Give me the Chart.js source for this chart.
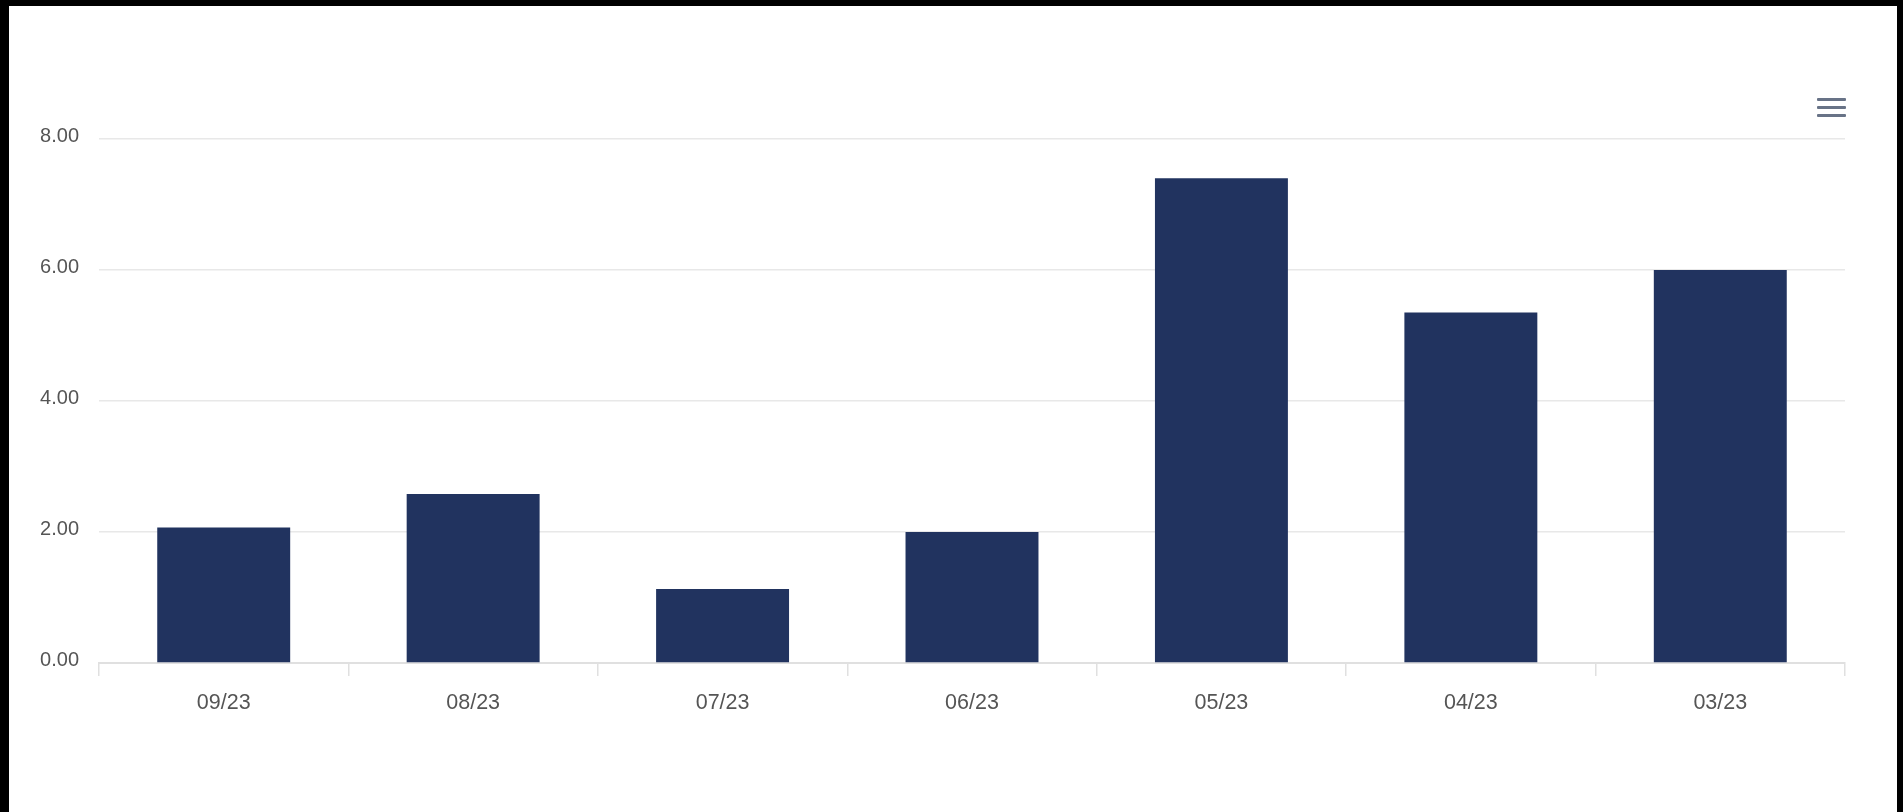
<!DOCTYPE html>
<html>
<head>
<meta charset="utf-8">
<script src="https://cdn.jsdelivr.net/npm/chart.js@4/dist/chart.umd.min.js"></script>
<style>
  html, body { margin: 0; padding: 0; background: #000; width: 1903px; height: 812px; overflow: hidden; }
  #frame { position: absolute; left: 9px; top: 6px; width: 1888px; height: 806px; background: #fff; }
  #c { position: absolute; left: 0; top: 0; }
  .menu { position: absolute; left: 1808px; width: 29px; height: 3px; background: #687387; border-radius: 1px; }
</style>
</head>
<body>
<div id="frame">
  <canvas id="c" width="1888" height="806"></canvas>
  <div class="menu" style="top:92px"></div>
  <div class="menu" style="top:100px"></div>
  <div class="menu" style="top:108px"></div>
</div>
<script>
const categories = ["09/23", "08/23", "07/23", "06/23", "05/23", "04/23", "03/23"];
const values = [2.07, 2.58, 1.13, 2.00, 7.40, 5.35, 6.00];
const yTicks = [0, 2, 4, 6, 8];

const FAMILY = "'Liberation Sans', Arial, sans-serif";

new Chart(document.getElementById('c'), {
  type: 'bar',
  data: {
    labels: categories,
    datasets: [{
      data: values,
      backgroundColor: '#21335f',
      borderWidth: 0,
      barPercentage: 0.533,
      categoryPercentage: 1.0
    }]
  },
  options: {
    responsive: false,
    animation: false,
    events: [],
    layout: { padding: { left: 0, right: 52, top: 133, bottom: 89 } },
    plugins: { legend: { display: false }, tooltip: { enabled: false } },
    scales: {
      x: {
        grid: { display: true, drawOnChartArea: false, drawTicks: true, tickLength: 13, color: '#e0e0e0', lineWidth: 1.5 },
        border: { display: true, color: '#e0e0e0', width: 2 },
        ticks: { color: '#555555', font: { family: FAMILY, size: 21.5 }, padding: 14, maxRotation: 0 },
        afterFit: s => { s.height = 60; }
      },
      y: {
        min: 0, max: 8,
        afterBuildTicks: s => { s.ticks = yTicks.map(v => ({ value: v })); },
        grid: { color: '#e8e8e8', lineWidth: 1.5, drawTicks: false },
        border: { display: false },
        ticks: { color: '#555555', font: { family: FAMILY, size: 20 }, padding: 20, labelOffset: -2.5, callback: v => Number(v).toFixed(2) },
        afterFit: s => { s.width = 90; }
      }
    }
  }
});
</script>
</body>
</html>
